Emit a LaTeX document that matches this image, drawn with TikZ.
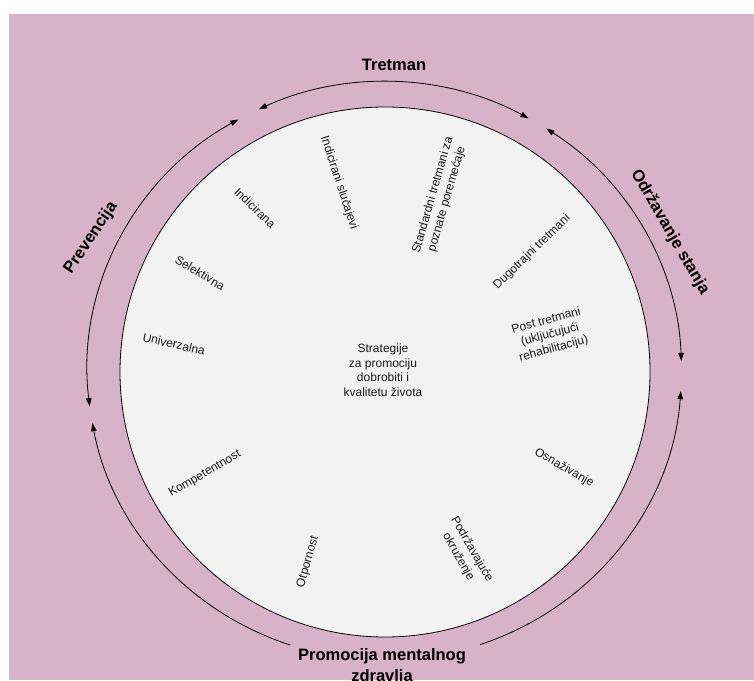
\documentclass[tikz,border=0pt]{standalone}
\usepackage{fontspec}
\setmainfont{Liberation Sans}
\usetikzlibrary{arrows.meta}
\definecolor{bgpink}{HTML}{D8B2C8}
\definecolor{discfill}{HTML}{F2F2F2}
\definecolor{labeltext}{HTML}{1A1A1A}
\begin{document}
\begin{tikzpicture}[x=1pt,y=1pt,
  lbl/.style={font=\fontsize{12}{14.5}\selectfont, text=labeltext, align=center, inner sep=0pt},
  ttl/.style={font=\fontsize{16.5}{19}\selectfont\bfseries, align=center, inner sep=0pt},
  cyc/.style={line width=0.8pt},
  headboth/.style={{Triangle[length=8pt,width=5.5pt]}-{Triangle[length=8pt,width=5.5pt]}},
  headend/.style={-{Triangle[length=8pt,width=5.5pt]}},
  ring/.style={x radius=297, y radius=289}
]
\useasboundingbox (0,0) rectangle (754,680);
\clip (0,0) rectangle (754,680);
\fill[bgpink] (9,0) rectangle (754,666);

\node[circle, draw, line width=0.8pt, fill=discfill, minimum size=530pt, inner sep=0pt] (disc) at (385,308) {};
\coordinate (C) at (384.5,309);

% arc end points
\path (C) ++(61:297 and 289) coordinate (tr1);
\path (C) ++(119.5:297 and 289) coordinate (pr1);
\path (C) ++(57:297 and 289) coordinate (od1);
\path (C) ++(288.8:297 and 289) coordinate (pm1);
\path (C) ++(251.5:297 and 289) coordinate (pm2);

\draw[cyc, headboth] (tr1) arc[start angle=61, end angle=115, ring];
\draw[cyc, headboth] (pr1) arc[start angle=119.5, end angle=187, ring];
\draw[cyc, headboth] (od1) arc[start angle=57, end angle=2, ring];
\draw[cyc, headend] (pm1) arc[start angle=288.8, end angle=356, ring];
\draw[cyc, headend] (pm2) arc[start angle=251.5, end angle=190.4, ring];

% outer titles
\node[ttl] (tretman) at (394,615) {Tretman};
\node[ttl, rotate=56] (prevencija) at (91,442) {Prevencija};
\node[ttl, rotate=-60] (odrzavanje) at (670,448) {Održavanje stanja};
\node[ttl, font=\fontsize{16.5}{21}\selectfont\bfseries] (promocija) at (382,13.5) {Promocija mentalnog\\zdravlja};

% inner labels
\node[lbl] (centre) at (383,310) {Strategije\\za promociju\\dobrobiti i\\kvalitetu života};
\node[lbl, rotate=-72] (indslu) at (339,497) {Indicirani slučajevi};
\node[lbl, rotate=74] (standard) at (440,483) {Standardni tretmani za\\poznate poremećaje};
\node[lbl, rotate=-44] (indicirana) at (255,472) {Indicirana};
\node[lbl, rotate=-31] (selektivna) at (200,407) {Selektivna};
\node[lbl, rotate=-13] (univerzalna) at (174,336) {Univerzalna};
\node[lbl, rotate=30] (kompetentnost) at (205,206) {Kompetentnost};
\node[lbl, rotate=74] (otpornost) at (308,118) {Otpornost};
\node[lbl, rotate=-60, font=\fontsize{12}{15.5}\selectfont] (podrzavajuce) at (465,127) {Podržavajuće\\okruženje};
\node[lbl, rotate=44] (dugotrajni) at (532,428) {Dugotrajni tretmani};
\node[lbl, rotate=15] (post) at (550,345) {Post tretmani\\(uključujući\\rehabilitaciju)};
\node[lbl, rotate=-30] (osnazivanje) at (564,212) {Osnaživanje};
\end{tikzpicture}
\end{document}
